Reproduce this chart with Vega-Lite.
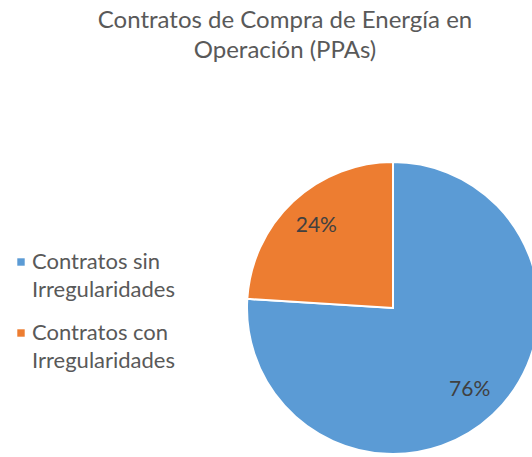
{
  "$schema": "https://vega.github.io/schema/vega-lite/v6.json",
  "width": 278,
  "height": 298,
  "autosize": "none",
  "padding": {"left": 254, "top": 159, "right": 0, "bottom": 0},
  "background": "white",
  "config": {"style": {"guide-label": {"lineHeight": 28}}},
  "title": {
    "text": ["Contratos de Compra de Energía en", "Operación (PPAs)"],
    "font": "Lato",
    "fontSize": 24,
    "fontWeight": "normal",
    "color": "#595959",
    "lineHeight": 30,
    "anchor": "middle",
    "frame": "group",
    "dx": -108,
    "offset": 95
  },
  "data": {
    "values": [
      {"categoria": "Contratos sin Irregularidades", "valor": 76, "orden": 1, "etiqueta": "76%"},
      {"categoria": "Contratos con Irregularidades", "valor": 24, "orden": 2, "etiqueta": "24%"}
    ]
  },
  "encoding": {
    "theta": {"field": "valor", "type": "quantitative", "stack": true},
    "order": {"field": "orden", "type": "quantitative"}
  },
  "layer": [
    {
      "mark": {"type": "arc", "radius": 146, "stroke": "white", "strokeWidth": 2},
      "encoding": {
        "color": {
          "field": "categoria",
          "type": "nominal",
          "sort": ["Contratos sin Irregularidades", "Contratos con Irregularidades"],
          "scale": {"domain": ["Contratos sin Irregularidades", "Contratos con Irregularidades"], "range": ["#5B9BD5", "#ED7D31"]},
          "legend": {
            "orient": "none",
            "legendX": -244,
            "legendY": 92,
            "title": null,
            "symbolType": "square",
            "symbolSize": 55,
            "symbolStrokeWidth": 0,
            "labelFont": "Lato",
            "labelFontSize": 22,
            "labelColor": "#595959",
            "labelLimit": 300,
            "labelOffset": 0,
            "rowPadding": 21,
            "labelExpr": "[slice(datum.label, 0, indexof(datum.label, ' Irreg')), 'Irregularidades']",
            "labelBaseline": "middle",
            "encode": {"labels": {"update": {"lineHeight": {"value": 28}}}}
          }
        }
      }
    },
    {
      "mark": {"type": "text", "radius": 112, "font": "Lato", "fontSize": 21, "color": "#404040"},
      "encoding": {"text": {"field": "etiqueta", "type": "nominal"}}
    }
  ]
}
